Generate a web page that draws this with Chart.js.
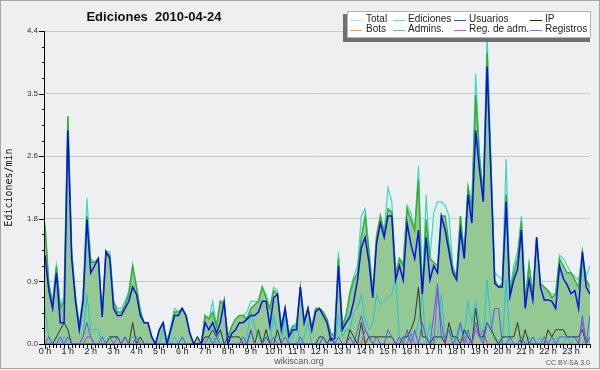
<!DOCTYPE html>
<html>
<head>
<meta charset="utf-8">
<script src="https://cdn.jsdelivr.net/npm/chart.js@4.4.1/dist/chart.umd.min.js"></script>
<style>
html, body { margin: 0; padding: 0; background: #eeeff1; }
#wrap { width: 600px; height: 370px; }
</style>
</head>
<body>
<div id="wrap"><canvas id="chart" width="600" height="370"></canvas></div>
<script>
// 10 minute slots, 6 per hour, 0 h .. 23 h 50
var hourLabels = ['0 h','1 h','2 h','3 h','4 h','5 h','6 h','7 h','8 h','9 h','10 h','11 h',
    '12 h','13 h','14 h','15 h','16 h','17 h','18 h','19 h','20 h','21 h','22 h','23 h'];

var yTicks = [0, 0.88, 1.76, 2.64, 3.52, 4.4];

var legendNames = ['Total', 'Ediciones', 'Usuarios', 'IP', 'Bots', 'Admins.', 'Reg. de adm.', 'Registros'];

var total = [
    1.7, 0.85, 0.6, 1.1, 0.55, 0.65,
    3.2, 1.3, 0.7, 0.25, 0.7, 2.05,
    1.2, 1.15, 1.2, 0.4, 1.3, 1.3,
    0.6, 0.5, 0.5, 0.6, 0.75, 1.1,
    0.8, 0.5, 0.3, 0.3, 0.1, 0.0,
    0.2, 0.3, 0.0, 0.25, 0.5, 0.45,
    0.5, 0.4, 0.15, 0.0, 0.1, 0.0,
    0.4, 0.35, 0.6, 0.25, 0.6, 0.6,
    0.1, 0.25, 0.35, 0.4, 0.4, 0.45,
    0.6, 0.6, 0.6, 0.8, 0.7, 0.5,
    0.8, 0.75, 0.25, 0.5, 0.15, 0.25,
    0.3, 0.8, 0.35, 0.5, 0.25, 0.5,
    0.5, 0.45, 0.35, 0.15, 0.15, 1.3,
    0.25, 0.4, 0.75, 0.95, 1.1, 1.8,
    1.9, 1.35, 0.75, 1.55, 1.8, 1.6,
    2.2, 2.0, 1.0, 1.2, 1.15, 1.95,
    1.85, 1.6, 2.5, 0.7, 2.1, 1.2,
    1.85, 2.0, 2.0, 1.95, 1.8, 1.1,
    0.95, 1.8, 1.3, 2.2, 2.0, 3.8,
    2.7, 2.1, 4.35, 2.6, 1.0, 0.95,
    0.9, 2.6, 0.75, 1.1, 1.3, 1.8,
    0.6, 1.15, 0.7, 1.5, 0.85, 0.8,
    0.75, 0.7, 0.7, 1.25, 1.2, 1.1,
    1.0, 0.95, 0.9, 1.25, 0.95, 1.1
];

var ediciones = [
    1.65, 0.85, 0.55, 1.1, 0.5, 0.6,
    3.2, 1.3, 0.65, 0.25, 0.65, 1.8,
    1.15, 1.15, 1.2, 0.4, 1.3, 1.25,
    0.6, 0.45, 0.45, 0.55, 0.7, 1.1,
    0.8, 0.45, 0.3, 0.3, 0.1, 0.0,
    0.2, 0.3, 0.0, 0.2, 0.45, 0.45,
    0.5, 0.4, 0.15, 0.0, 0.1, 0.0,
    0.4, 0.35, 0.45, 0.25, 0.6, 0.55,
    0.1, 0.25, 0.35, 0.4, 0.4, 0.35,
    0.5, 0.55, 0.6, 0.8, 0.65, 0.5,
    0.75, 0.7, 0.25, 0.5, 0.15, 0.25,
    0.25, 0.8, 0.3, 0.5, 0.2, 0.5,
    0.5, 0.45, 0.35, 0.15, 0.1, 1.2,
    0.25, 0.4, 0.7, 0.9, 1.0, 1.5,
    1.8, 1.3, 0.7, 1.5, 1.8, 1.55,
    1.9, 1.85, 1.0, 1.2, 1.1, 1.9,
    1.75, 1.6, 2.3, 0.7, 1.75, 1.2,
    1.15, 1.1, 1.8, 1.8, 1.4, 1.05,
    0.95, 1.8, 1.25, 2.2, 1.9, 3.5,
    2.6, 2.1, 4.1, 2.5, 0.9, 0.8,
    0.85, 2.1, 0.7, 1.0, 1.2, 1.72,
    0.6, 1.1, 0.7, 1.5, 0.85, 0.8,
    0.75, 0.65, 0.7, 1.2, 1.1, 1.0,
    1.0, 0.9, 0.8, 1.3, 0.9, 0.8
];

var usuarios = [
    1.25, 0.75, 0.5, 1.0, 0.3, 0.3,
    3.0, 1.2, 0.6, 0.2, 0.6, 1.75,
    1.0, 1.1, 1.2, 0.38, 1.3, 1.2,
    0.5, 0.4, 0.4, 0.5, 0.6, 0.8,
    0.7, 0.4, 0.3, 0.3, 0.1, 0.0,
    0.2, 0.3, 0.0, 0.2, 0.4, 0.4,
    0.5, 0.4, 0.15, 0.0, 0.0, 0.0,
    0.3, 0.2, 0.3, 0.15, 0.3, 0.6,
    0.0, 0.15, 0.2, 0.3, 0.3, 0.35,
    0.4, 0.4, 0.45, 0.6, 0.6, 0.25,
    0.65, 0.7, 0.2, 0.5, 0.1, 0.2,
    0.2, 0.8, 0.3, 0.5, 0.2, 0.45,
    0.5, 0.4, 0.3, 0.05, 0.08, 1.1,
    0.2, 0.3, 0.38, 0.6, 0.9, 1.35,
    1.5, 1.15, 0.65, 1.42, 1.7, 1.5,
    1.8, 1.8, 0.9, 1.1, 0.9, 1.7,
    1.4, 1.2, 1.6, 0.7, 1.5, 0.9,
    1.1, 1.0, 1.8, 1.6, 1.3, 1.0,
    0.9, 1.6, 1.2, 2.1, 1.7, 3.0,
    2.45, 2.0, 3.9, 2.4, 0.85, 0.8,
    0.8, 2.0, 0.67, 0.9, 1.05, 1.6,
    0.5, 0.9, 0.62, 1.5, 0.8, 0.62,
    0.62, 0.6, 0.5, 1.1, 0.92, 0.83,
    0.71, 0.75, 0.5, 1.3, 0.8, 0.7
];

var ip = [
    0, 0, 0, 0.1, 0.2, 0.3,
    0.2, 0, 0, 0, 0, 0,
    0, 0, 0, 0, 0, 0.1,
    0.1, 0.1, 0, 0.1, 0, 0.3,
    0, 0.1, 0, 0, 0, 0,
    0, 0, 0, 0, 0, 0,
    0, 0, 0, 0, 0.1, 0,
    0.1, 0.1, 0.2, 0.1, 0.2, 0,
    0.1, 0.1, 0.1, 0.1, 0, 0,
    0.2, 0, 0.2, 0, 0.2, 0,
    0, 0.2, 0, 0, 0, 0,
    0, 0, 0, 0, 0, 0,
    0.1, 0.1, 0, 0.1, 0, 0,
    0, 0, 0.2, 0.1, 0, 0.3,
    0, 0.1, 0.1, 0.1, 0.1, 0.1,
    0.1, 0.1, 0, 0, 0.1, 0.1,
    0.2, 0.35, 0.8, 0.1, 0.1, 0,
    0.1, 0.1, 0.1, 0, 0.3, 0.1,
    0.1, 0, 0.2, 0.1, 0, 0.5,
    0.1, 0.1, 0.3, 0.2, 0.1, 0,
    0.1, 0.1, 0.1, 0.1, 0.3, 0,
    0.2, 0, 0, 0, 0, 0,
    0.2, 0.1, 0.2, 0.2, 0.2, 0.1,
    0.1, 0.1, 0.1, 0.2, 0, 0.1
];

var bots = [
    0, 0, 0, 0, 0, 0,  0, 0, 0, 0, 0, 0,  0, 0, 0, 0, 0, 0,  0, 0, 0, 0, 0, 0,
    0, 0, 0, 0, 0, 0,  0, 0, 0, 0, 0, 0,  0, 0, 0, 0, 0, 0,  0, 0, 0, 0, 0, 0,
    0, 0, 0, 0, 0, 0,  0, 0, 0, 0, 0, 0,  0, 0, 0, 0, 0, 0,  0, 0, 0, 0, 0, 0,
    0, 0, 0, 0, 0, 0,  0, 0, 0, 0, 0, 0,  0, 0, 0, 0, 0, 0,  0, 0, 0, 0, 0, 0,
    0, 0, 0, 0, 0, 0,  0, 0, 0, 0, 0, 0,  0, 0, 0, 0, 0, 0,  0, 0, 0, 0, 0, 0,
    0, 0, 0, 0, 0, 0,  0, 0, 0, 0, 0, 0,  0, 0, 0, 0, 0, 0,  0, 0, 0, 0, 0, 0
];

var admins = [
    0.5, 0.1, 0, 0.1, 0, 0.1,
    0, 0, 0, 0, 0.1, 0.7,
    0.2, 0.2, 0.2, 0, 0, 0.1,
    0.1, 0.1, 0, 0, 0, 0.1,
    0.1, 0, 0, 0, 0, 0,
    0, 0.2, 0.1, 0, 0.1, 0,
    0.1, 0, 0, 0, 0, 0,
    0, 0, 0.1, 0, 0.2, 0,
    0, 0, 0, 0, 0, 0.1,
    0.45, 0.25, 0.1, 0, 0.1, 0,
    0.4, 0.1, 0, 0.4, 0, 0.1,
    0.3, 0, 0.1, 0.3, 0, 0,
    0, 0.1, 0, 0, 0, 0.4,
    0.1, 0.2, 0.2, 0.45, 0.5, 0.7,
    0.35, 0.2, 0.3, 0.7, 0.55, 0.6,
    0.65, 0.7, 0.95, 0.05, 0.05, 0.1,
    0.05, 0.1, 0.3, 0.7, 0, 0.3,
    0, 0.1, 0.7, 0.05, 0.2, 0.1,
    0, 0.3, 0.1, 0.6, 0.3, 0.6,
    0.3, 0.05, 0.9, 0.3, 0.05, 0,
    0, 0.9, 0, 0, 0, 0,
    0, 0.1, 0, 0, 0.1, 0,
    0, 0, 0.1, 0, 0, 0.1,
    0, 0.1, 0, 0, 0.1, 0
];

var regAdm = [
    0, 0, 0, 0, 0, 0,
    0, 0, 0, 0, 0, 0.1,
    0.1, 0, 0, 0, 0, 0,
    0, 0, 0, 0, 0, 0,
    0, 0, 0, 0, 0, 0,
    0, 0, 0, 0, 0, 0,
    0, 0, 0, 0, 0, 0,
    0, 0, 0, 0, 0, 0,
    0, 0, 0, 0, 0, 0,
    0, 0, 0, 0, 0, 0,
    0, 0, 0, 0, 0, 0,
    0, 0, 0, 0, 0, 0,
    0, 0, 0, 0, 0, 0,
    0, 0, 0, 0, 0, 0,
    0.2, 0.1, 0, 0, 0, 0,
    0, 0, 0, 0, 0, 0,
    0.15, 0, 0, 0, 0, 0,
    0, 0.75, 0.3, 0, 0, 0,
    0, 0, 0.1, 0, 0, 0.2,
    0.1, 0.2, 0, 0, 0, 0,
    0, 0, 0, 0, 0, 0,
    0, 0, 0, 0, 0, 0,
    0, 0, 0, 0, 0, 0,
    0, 0, 0, 0.3, 0, 0.1
];

var registros = [
    0, 0.1, 0, 0, 0.1, 0,
    0.1, 0, 0, 0, 0.1, 0.3,
    0.1, 0, 0, 0.1, 0, 0.1,
    0, 0.1, 0, 0.1, 0, 0,
    0.1, 0, 0, 0, 0, 0,
    0, 0, 0, 0, 0, 0,
    0.1, 0, 0, 0, 0, 0,
    0, 0.1, 0, 0.1, 0, 0,
    0, 0, 0, 0, 0.1, 0,
    0.2, 0, 0, 0, 0.1, 0,
    0.1, 0, 0, 0.1, 0, 0,
    0, 0.1, 0, 0, 0, 0,
    0, 0.1, 0, 0, 0, 0.1,
    0, 0, 0.1, 0, 0.2, 0.4,
    0.2, 0.1, 0, 0.1, 0, 0,
    0.2, 0.1, 0, 0.1, 0, 0.2,
    0, 0.2, 0, 0.3, 0.1, 0,
    0.4, 0.85, 0.1, 0.1, 0.2, 0,
    0.1, 0.3, 0, 0.2, 0, 0.3,
    0.1, 0, 0.3, 0.2, 0.5, 0.5,
    0, 0, 0.1, 0, 0, 0.1,
    0, 0, 0.1, 0, 0, 0.1,
    0, 0.1, 0, 0.1, 0.1, 0.1,
    0.1, 0.1, 0, 0.4, 0, 0.4
];

function points(values) {
    return values.map(function (v, i) { return {x: i, y: v}; });
}

function line(label, values, color, width, order, fillColor) {
    return {
        label: label,
        data: points(values),
        borderColor: color,
        backgroundColor: fillColor || color,
        borderWidth: width,
        fill: fillColor ? 'origin' : false,
        pointRadius: 0,
        tension: 0,
        order: order
    };
}

var legendColors = ['#a9e3e3', '#8fd48f', '#4646e6', '#222222', '#f5a142', '#3fcfe0', '#d04de6', '#7474f2'];

var decor = {
    id: 'decor',
    beforeDraw: function (chart) {
        var ctx = chart.ctx;
        ctx.save();
        ctx.fillStyle = '#eeeff1';
        ctx.fillRect(0, 0, chart.width, chart.height);
        ctx.restore();
    },
    afterDatasetsDraw: function (chart) {
        var ctx = chart.ctx, a = chart.chartArea;
        var xs = chart.scales.x, ys = chart.scales.y;
        ctx.save();
        ctx.strokeStyle = '#000';
        ctx.lineWidth = 1;
        ctx.beginPath();
        // axes
        ctx.moveTo(a.left - 0.5, a.top);
        ctx.lineTo(a.left - 0.5, a.bottom + 1);
        ctx.moveTo(a.left - 1, a.bottom + 0.5);
        ctx.lineTo(a.right, a.bottom + 0.5);
        // x ticks every slot, longer on the hour
        for (var i = 0; i <= 144; i++) {
            var px = Math.round(xs.getPixelForValue(i)) + 0.5;
            if (px > a.right + 1) break;
            ctx.moveTo(px, a.bottom);
            ctx.lineTo(px, a.bottom + (i % 6 === 0 ? 5 : 4));
        }
        // y ticks, quarter steps
        for (var k = 0; k <= 20; k++) {
            var py = Math.round(ys.getPixelForValue(k * 0.22)) + 0.5;
            ctx.moveTo(a.left, py);
            ctx.lineTo(a.left - (k % 4 === 0 ? 6 : 3), py);
        }
        ctx.stroke();
        ctx.restore();
    },
    afterDraw: function (chart) {
        var ctx = chart.ctx;
        ctx.save();

        // title
        ctx.fillStyle = '#111';
        ctx.font = 'bold 13px "Liberation Sans", Arial, sans-serif';
        ctx.textAlign = 'center';
        ctx.textBaseline = 'middle';
        ctx.fillText('Ediciones  2010-04-24', 154, 17);

        // legend box with shadow
        ctx.fillStyle = '#707070';
        ctx.fillRect(343, 14, 247, 28);
        ctx.fillStyle = '#ffffff';
        ctx.fillRect(347, 11, 244, 27);
        ctx.strokeStyle = '#b5b5b5';
        ctx.lineWidth = 1;
        ctx.strokeRect(347.5, 11.5, 243, 26);

        var lineX = [350, 393, 454, 530];
        var textX = [366, 408, 469, 545];
        var rowY = [19.5, 29.5];
        ctx.font = '10px "Liberation Sans", Arial, sans-serif';
        ctx.textAlign = 'left';
        ctx.textBaseline = 'middle';
        for (var n = 0; n < legendNames.length; n++) {
            var col = n % 4, row = Math.floor(n / 4);
            var y = Math.round(rowY[row]) + 0.5;
            ctx.strokeStyle = legendColors[n];
            ctx.beginPath();
            ctx.moveTo(lineX[col], y);
            ctx.lineTo(lineX[col] + 12, y);
            ctx.stroke();
            ctx.fillStyle = '#222';
            ctx.fillText(legendNames[n], textX[col], rowY[row]);
        }

        // footer
        ctx.fillStyle = '#555';
        ctx.font = '9px "Liberation Sans", Arial, sans-serif';
        ctx.textAlign = 'center';
        ctx.fillText('wikiscan.org', 299, 362);
        ctx.font = '7px "Liberation Sans", Arial, sans-serif';
        ctx.textAlign = 'right';
        ctx.fillText('CC BY-SA 3.0', 590, 363);

        // frame
        ctx.strokeStyle = '#a8a8a8';
        ctx.strokeRect(0.5, 0.5, 599, 368);
        ctx.restore();
    }
};

new Chart('chart', {
    type: 'line',
    data: {
        datasets: [
            line('Total', total, '#3fd6c8', 1.2, 10, '#def0ec'),
            line('Ediciones', ediciones, '#37ae37', 1.5, 9, '#94c994'),
            line('Bots', bots, '#f5a142', 1, 8),
            line('Admins.', admins, '#22c4d6', 1, 7),
            line('IP', ip, '#333333', 1, 6),
            line('Reg. de adm.', regAdm, '#b43ee0', 1, 5),
            line('Registros', registros, '#5858f0', 1, 4),
            line('Usuarios', usuarios, '#0a12dc', 1.5, 1)
        ]
    },
    options: {
        responsive: false,
        animation: false,
        devicePixelRatio: 1,
        layout: { padding: { top: 31, right: 10, left: 0, bottom: 0 } },
        plugins: {
            legend: { display: false },
            title: { display: false },
            tooltip: { enabled: false }
        },
        scales: {
            x: {
                type: 'linear',
                min: 0,
                max: 143,
                afterFit: function (s) { s.height = 26; },
                afterBuildTicks: function (s) {
                    s.ticks = hourLabels.map(function (h, i) { return {value: i * 6}; });
                },
                grid: { display: false, drawTicks: false },
                border: { display: false },
                ticks: {
                    autoSkip: false,
                    maxRotation: 0,
                    padding: 2,
                    color: '#222',
                    font: { family: '"Liberation Sans", Arial, sans-serif', size: 9 },
                    callback: function (v) { return hourLabels[Math.round(v / 6)]; }
                }
            },
            y: {
                min: 0,
                max: 4.4,
                afterFit: function (s) { s.width = 45; },
                afterBuildTicks: function (s) {
                    s.ticks = yTicks.map(function (v) { return {value: v}; });
                },
                grid: { color: '#c9c9c9', drawTicks: false },
                border: { display: false },
                ticks: {
                    padding: 7,
                    color: '#333',
                    font: { family: '"Liberation Sans", Arial, sans-serif', size: 8 },
                    callback: function (v) { return v.toFixed(1); }
                },
                title: {
                    display: true,
                    text: 'Ediciones/min',
                    color: '#111',
                    padding: { top: 3, bottom: 0 },
                    font: { family: '"DejaVu Sans Mono", monospace', size: 10 }
                }
            }
        }
    },
    plugins: [decor]
});
</script>
</body>
</html>
